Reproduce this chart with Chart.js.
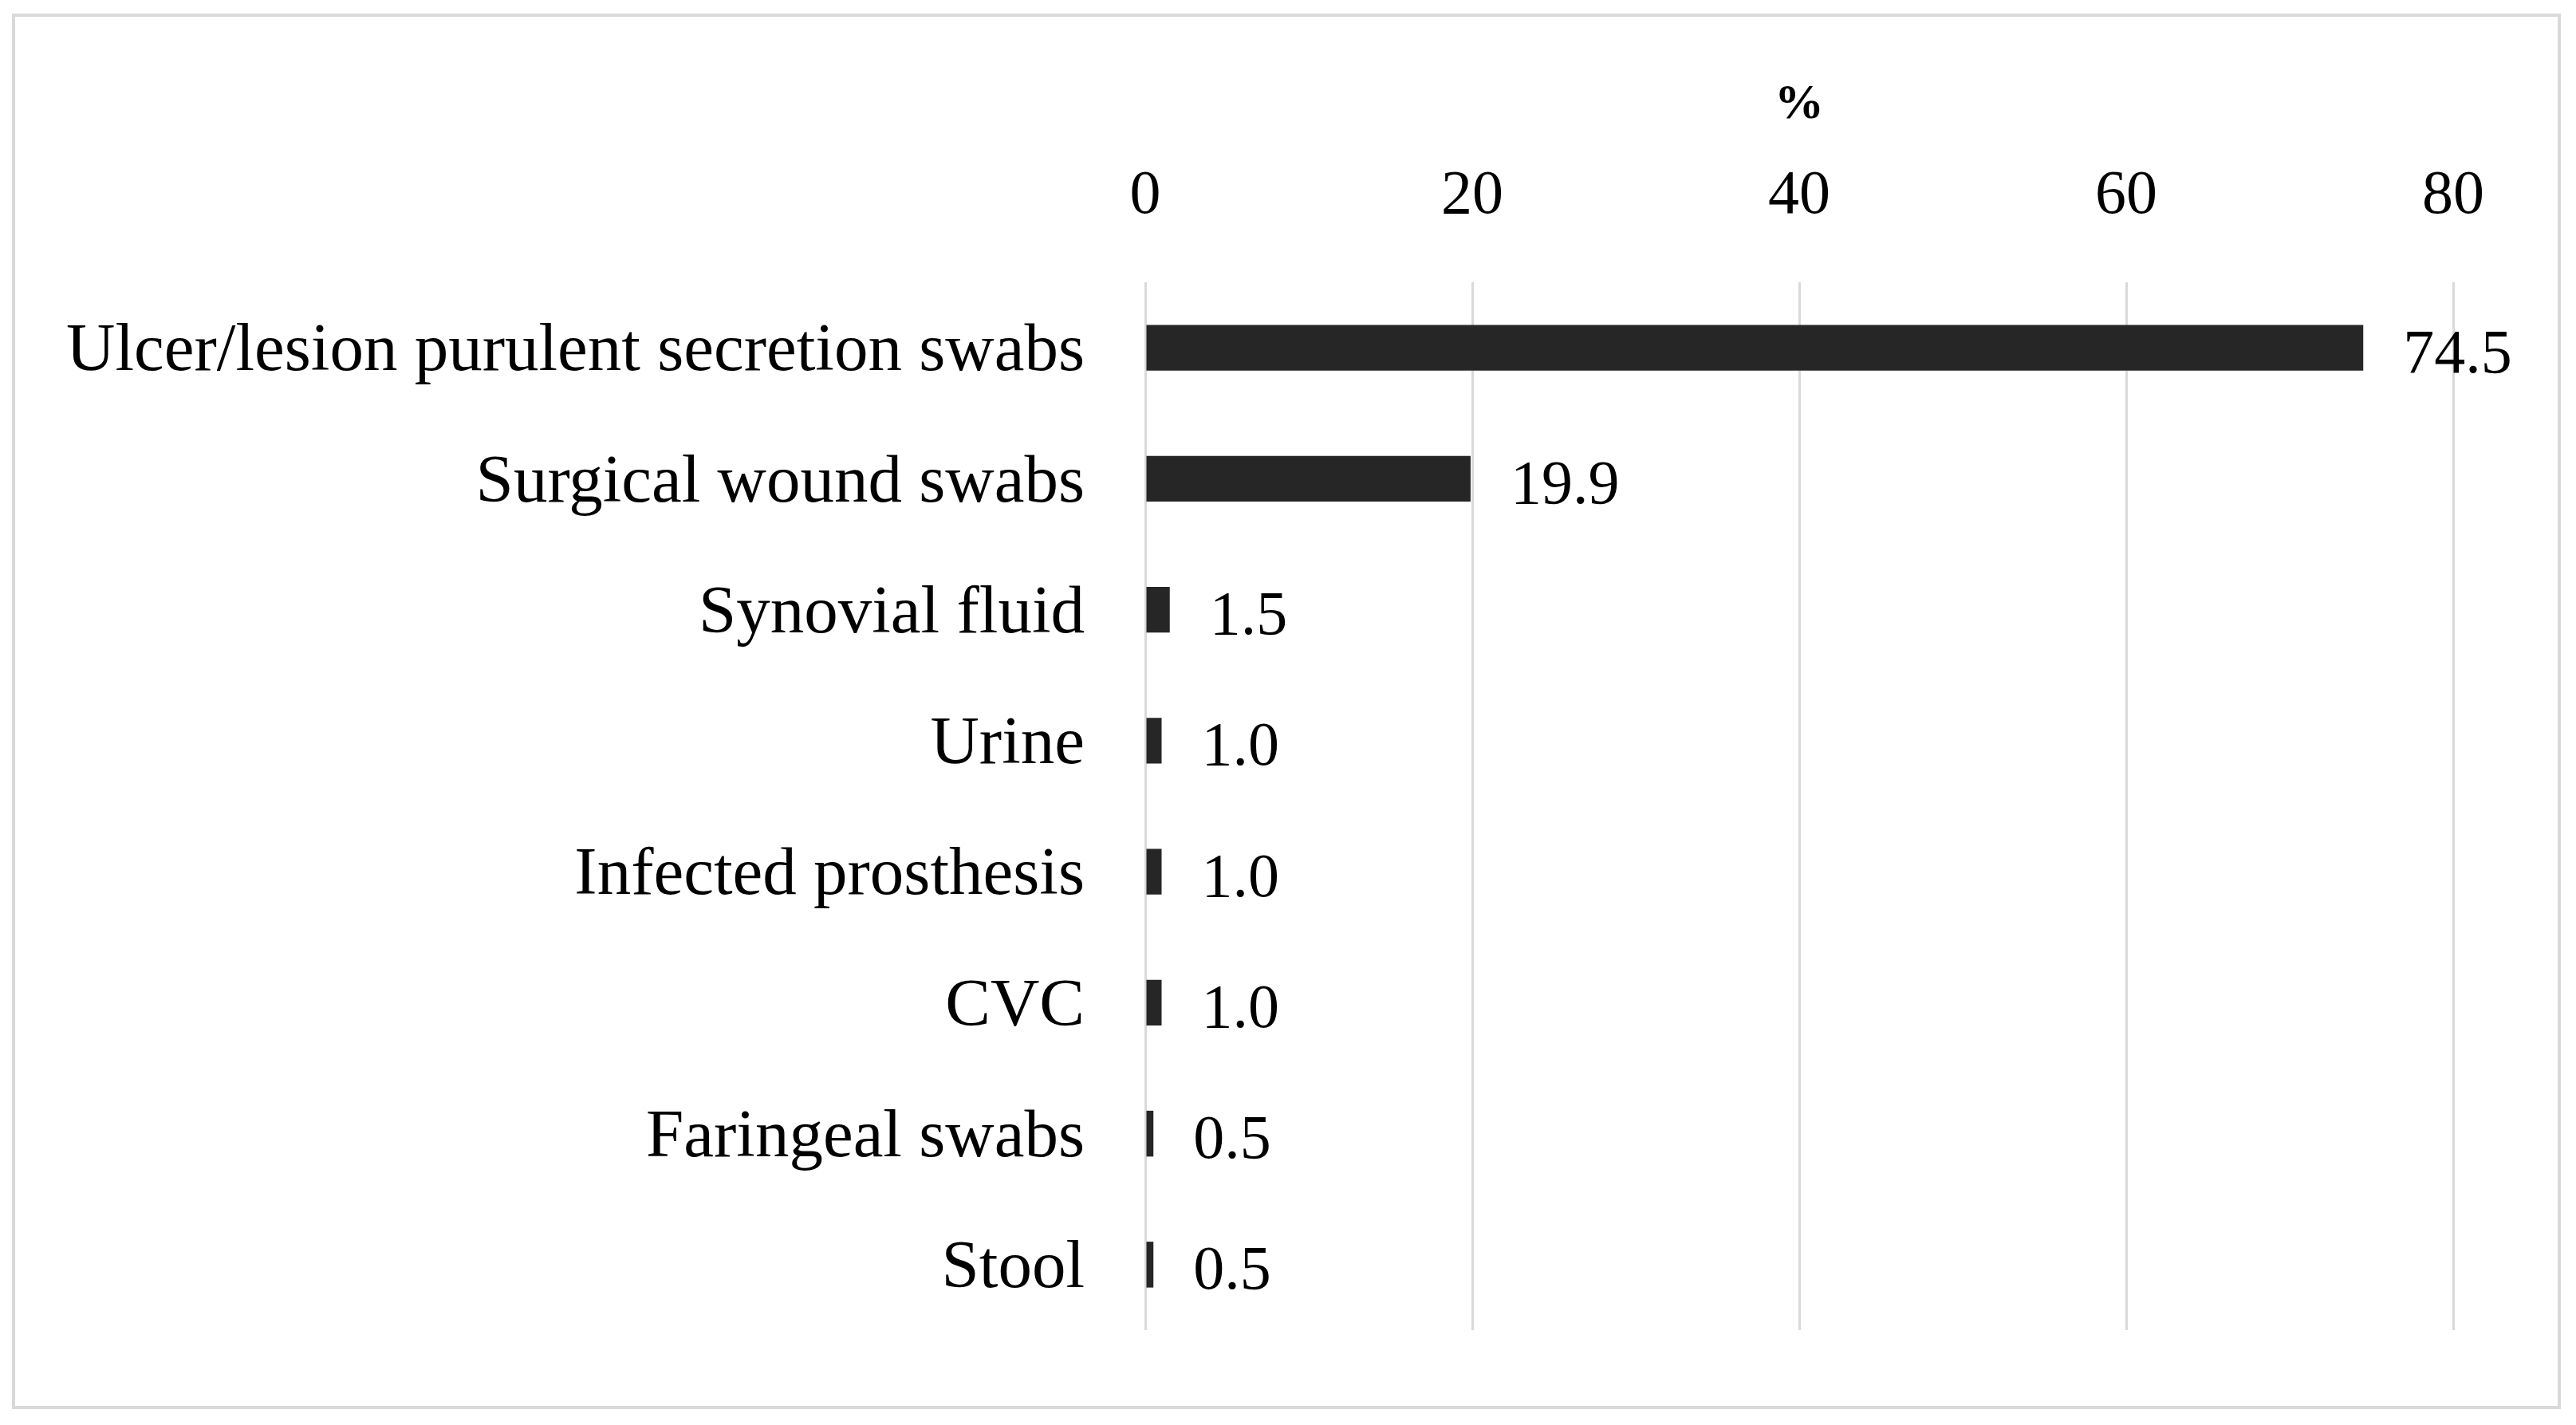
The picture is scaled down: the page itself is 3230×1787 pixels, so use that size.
<!DOCTYPE html>
<html>
<head>
<meta charset="utf-8">
<script src="https://cdn.jsdelivr.net/npm/chart.js@4.4.0/dist/chart.umd.min.js"></script>
<style>
html,body{margin:0;padding:0;background:#fff;}
#wrap{width:3230px;height:1787px;}
</style>
</head>
<body>
<div id="wrap"><canvas id="c" width="3230" height="1787"></canvas></div>
<script>
const categories = ["Ulcer/lesion purulent secretion swabs","Surgical wound swabs","Synovial fluid","Urine","Infected prosthesis","CVC","Faringeal swabs","Stool"];
const values = [74.5, 19.9, 1.5, 1.0, 1.0, 1.0, 0.5, 0.5];
const xTicks = [0, 20, 40, 60, 80];
const axisTitle = "%";

const FONT = "'Liberation Serif', 'Times New Roman', serif";

const frame = {
  id: 'frame',
  beforeDraw(chart) {
    const ctx = chart.ctx;
    ctx.save();
    ctx.fillStyle = '#fff';
    ctx.fillRect(0, 0, chart.width, chart.height);
    ctx.strokeStyle = '#d9d9d9';
    ctx.lineWidth = 4;
    ctx.strokeRect(17, 19, 3192, 1746);
    ctx.restore();
  }
};

const valueLabels = {
  id: 'valueLabels',
  afterDatasetsDraw(chart) {
    const ctx = chart.ctx;
    const meta = chart.getDatasetMeta(0);
    ctx.save();
    ctx.font = "78px " + FONT;
    ctx.fillStyle = '#000';
    ctx.textAlign = 'left';
    ctx.textBaseline = 'middle';
    meta.data.forEach((bar, i) => {
      ctx.fillText(values[i].toFixed(1), bar.x + 50, bar.y + 10);
    });
    ctx.restore();
  }
};

new Chart(document.getElementById('c'), {
  type: 'bar',
  data: {
    labels: categories,
    datasets: [{
      data: values,
      backgroundColor: '#262626',
      borderWidth: 0,
      barPercentage: 0.35,
      categoryPercentage: 1
    }]
  },
  options: {
    indexAxis: 'y',
    responsive: false,
    devicePixelRatio: 1,
    animation: false,
    layout: { padding: { top: 64, right: 154, bottom: 119, left: 0 } },
    plugins: { legend: { display: false }, tooltip: { enabled: false } },
    scales: {
      x: {
        position: 'top',
        min: 0, max: 80,
        afterBuildTicks(scale) { scale.ticks = xTicks.map(v => ({ value: v })); },
        afterFit(scale) { scale.height = 290; },
        grid: { color: '#d9d9d9', lineWidth: 3, drawTicks: false },
        border: { display: false },
        ticks: { color: '#000', padding: 61, font: { family: FONT, size: 78 } },
        title: { display: true, text: axisTitle, color: '#000', padding: { top: 31, bottom: 0 }, font: { family: FONT, size: 62, weight: 'bold' } }
      },
      y: {
        afterFit(scale) { scale.width = 1436; },
        grid: { display: false },
        border: { display: false },
        ticks: { color: '#000', padding: 68, labelOffset: 6, font: { family: FONT, size: 85 } }
      }
    }
  },
  plugins: [frame, valueLabels]
});
</script>
</body>
</html>
